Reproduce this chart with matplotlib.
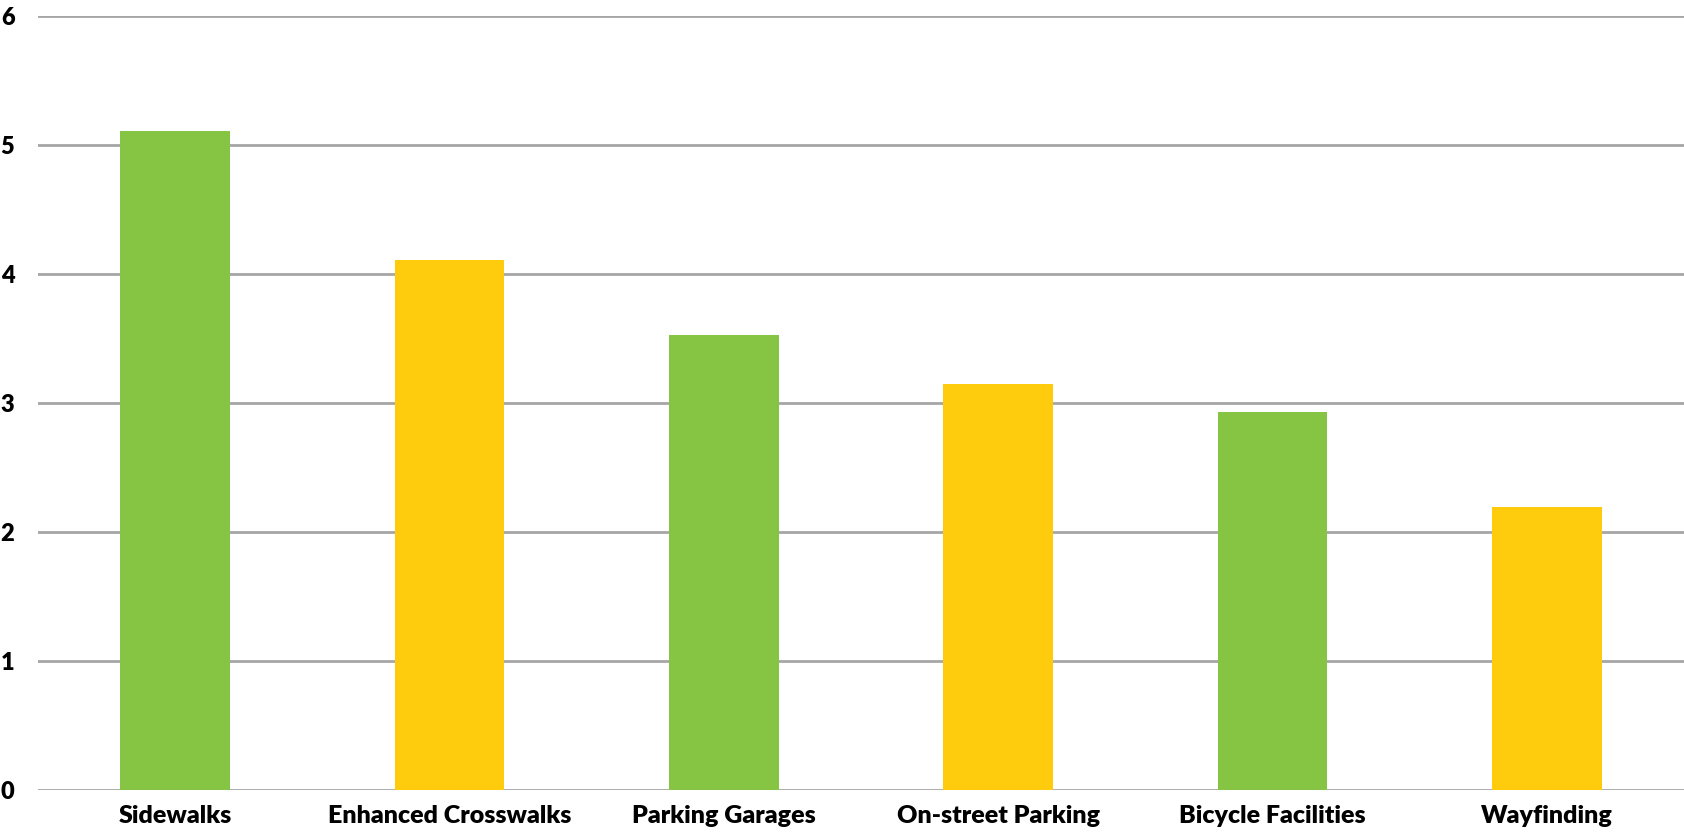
import matplotlib.pyplot as plt

categories = ["Sidewalks", "Enhanced Crosswalks", "Parking Garages",
              "On-street Parking", "Bicycle Facilities", "Wayfinding"]
values = [5.11, 4.11, 3.53, 3.15, 2.93, 2.19]
colors = ["#86C443", "#FFCB0C", "#86C443", "#FFCB0C", "#86C443", "#FFCB0C"]
yticks = [0, 1, 2, 3, 4, 5, 6]

plt.rcParams["font.family"] = ["Lato", "DejaVu Sans"]

fig = plt.figure(figsize=(16.84, 8.35), dpi=100)
ax = fig.add_axes([0.0226, 0.0539, 0.9774, 0.9271])

ax.bar(range(len(categories)), values, width=0.4, color=colors, zorder=3)

ax.set_xlim(-0.5, len(categories) - 0.5)
ax.set_ylim(0, 6)
ax.set_yticks(yticks)
ax.set_yticklabels([str(t) for t in yticks], fontsize=17, fontweight="heavy")
ax.set_xticks(range(len(categories)))
ax.set_xticklabels(categories, fontsize=18, fontweight="heavy")
ax.tick_params(length=0)
ax.tick_params(axis="y", pad=17)
ax.tick_params(axis="x", pad=11)

ax.grid(axis="y", color="#A6A6A6", linewidth=2, zorder=0)
for s in ax.spines.values():
    s.set_visible(False)

fig.savefig("out.png", dpi=100)
